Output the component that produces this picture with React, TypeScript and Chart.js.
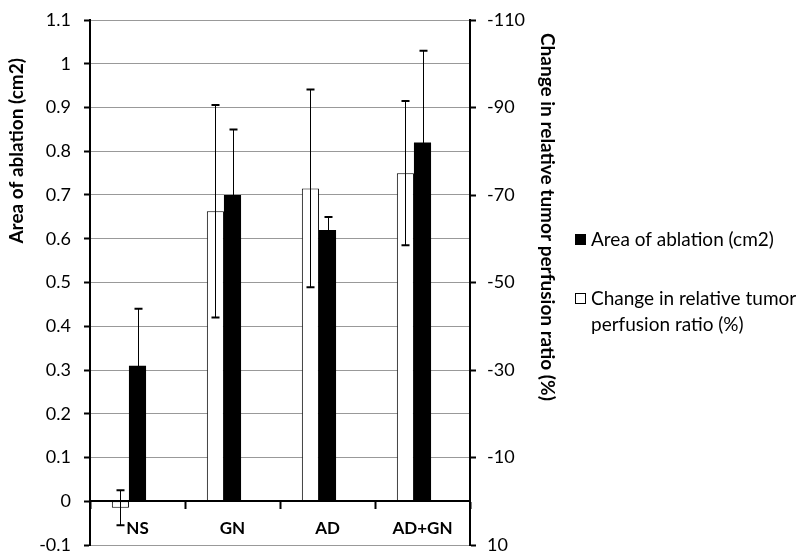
import React, { useEffect, useRef } from 'react';
import { Chart, registerables } from 'chart.js';

Chart.register(...registerables);

const FONT = 'Lato, "Open Sans", sans-serif';

const categories = ['NS', 'GN', 'AD', 'AD+GN'];
const areaValues = [0.31, 0.7, 0.62, 0.82];
const areaErrors = [0.13, 0.15, 0.03, 0.21];
const perfusionValues = [1.5, -66.3, -71.5, -75.0];
const perfusionErrors = [4.0, 24.3, 22.6, 16.5];

const leftAxis = { min: -0.1, max: 1.1, step: 0.1 };
const rightAxis = { min: -110, max: 10, step: 20 };

const areaLabel = 'Area of ablation (cm2)';
const perfusionLabel = 'Change in relative tumor perfusion ratio (%)';
const perfusionLegendLines = ['Change in relative tumor', 'perfusion ratio (%)'];

const errorBarPlugin = {
  id: 'errorBars',
  afterDatasetsDraw(chart: any) {
    const ctx = chart.ctx;
    chart.data.datasets.forEach((ds: any, di: number) => {
      const errs = ds.errors;
      if (!errs) return;
      const meta = chart.getDatasetMeta(di);
      const scale = chart.scales[ds.yAxisID];
      meta.data.forEach((bar: any, i: number) => {
        const v = ds.data[i];
        const e = errs[i];
        if (v == null || e == null) return;
        const x = Math.round(bar.x) + 0.5;
        const yA = scale.getPixelForValue(v + e);
        const yB = scale.getPixelForValue(v - e);
        ctx.save();
        ctx.strokeStyle = '#000';
        ctx.lineWidth = 1;
        ctx.beginPath();
        ctx.moveTo(x, yA);
        ctx.lineTo(x, yB);
        ctx.stroke();
        ctx.lineWidth = 2;
        ctx.beginPath();
        ctx.moveTo(x - 4, yA);
        ctx.lineTo(x + 4, yA);
        ctx.moveTo(x - 4, yB);
        ctx.lineTo(x + 4, yB);
        ctx.stroke();
        ctx.restore();
      });
    });
  },
};

const textPlugin = {
  id: 'titlesAndLegend',
  afterDraw(chart: any) {
    const { ctx, chartArea } = chart;
    ctx.save();
    ctx.fillStyle = '#000';
    ctx.textBaseline = 'middle';
    ctx.font = `bold 19px ${FONT}`;
    // left axis title
    ctx.save();
    ctx.translate(17, chartArea.top + 38);
    ctx.rotate(-Math.PI / 2);
    ctx.textAlign = 'right';
    ctx.fillText(areaLabel, 0, 0);
    ctx.restore();
    // right axis title
    ctx.save();
    ctx.translate(547, chartArea.top + 13);
    ctx.rotate(Math.PI / 2);
    ctx.textAlign = 'left';
    ctx.fillText(perfusionLabel, 0, 0);
    ctx.restore();
    // legend
    ctx.font = `19px ${FONT}`;
    ctx.textAlign = 'left';
    ctx.fillStyle = '#000';
    ctx.fillRect(575, 234, 11, 11);
    ctx.fillText(areaLabel, 591, 240);
    ctx.strokeStyle = '#000';
    ctx.lineWidth = 1;
    ctx.fillStyle = '#fff';
    ctx.fillRect(575.5, 293.5, 10, 10);
    ctx.strokeRect(575.5, 293.5, 10, 10);
    ctx.fillStyle = '#000';
    ctx.fillText(perfusionLegendLines[0], 591, 299);
    ctx.fillText(perfusionLegendLines[1], 591, 325);
    ctx.restore();
  },
};

const fmt = (v: any) => {
  const r = Math.round(Number(v) * 10) / 10;
  return String(r === 0 ? 0 : r);
};

export default function App() {
  const ref = useRef<HTMLCanvasElement | null>(null);
  useEffect(() => {
    if (!ref.current) return;
    const chart = new Chart(ref.current, {
      type: 'bar',
      data: {
        labels: categories,
        datasets: [
          {
            label: perfusionLabel,
            data: perfusionValues,
            errors: perfusionErrors,
            yAxisID: 'y2',
            backgroundColor: '#ffffff',
            borderColor: '#000000',
            borderWidth: 1,
            borderSkipped: false,
          } as any,
          {
            label: areaLabel,
            data: areaValues,
            errors: areaErrors,
            yAxisID: 'y',
            backgroundColor: '#000000',
            borderWidth: 0,
          } as any,
          {
            label: '',
            data: categories.map(() => null),
            yAxisID: 'y',
          } as any,
        ],
      },
      options: {
        responsive: false,
        animation: false,
        categoryPercentage: 0.54,
        barPercentage: 1.0,
        layout: { padding: { top: 20, bottom: 15, left: 0, right: 270 } },
        plugins: {
          legend: { display: false },
          tooltip: { enabled: false },
        },
        scales: {
          x: {
            type: 'category',
            position: { y: 0 } as any,
            offset: true,
            grid: {
              offset: true,
              drawOnChartArea: false,
              drawTicks: true,
              tickLength: 7,
              tickColor: '#000',
              tickWidth: 2,
            },
            border: { display: true, color: '#000', width: 2, z: 1 },
            ticks: {
              color: '#000',
              font: { family: FONT, size: 17, weight: 'bold' },
              padding: 10,
            },
            afterFit: (s: any) => {
              s.height = 0;
            },
          } as any,
          y: {
            type: 'linear',
            position: 'left',
            min: leftAxis.min,
            max: leftAxis.max,
            ticks: {
              stepSize: leftAxis.step,
              callback: fmt,
              color: '#000',
              font: { family: FONT, size: 18 },
              padding: 13,
            },
            grid: {
              color: '#999999',
              lineWidth: 1,
              tickColor: '#000',
              tickLength: 6,
              tickWidth: 2,
            },
            border: { display: true, color: '#000', width: 2, z: 1 },
            afterFit: (s: any) => {
              s.width = 90;
              s.paddingTop = 0;
              s.paddingBottom = 0;
            },
          } as any,
          y2: {
            type: 'linear',
            position: 'right',
            reverse: true,
            min: rightAxis.min,
            max: rightAxis.max,
            ticks: {
              stepSize: rightAxis.step,
              color: '#000',
              font: { family: FONT, size: 18 },
              padding: 11,
            },
            grid: {
              drawOnChartArea: false,
              tickColor: '#000',
              tickLength: 6,
              tickWidth: 2,
            },
            border: { display: true, color: '#000', width: 2, z: 1 },
            afterFit: (s: any) => {
              s.width = 60;
              s.paddingTop = 0;
              s.paddingBottom = 0;
            },
          } as any,
        },
      } as any,
      plugins: [errorBarPlugin, textPlugin],
    });
    return () => chart.destroy();
  }, []);
  return (
    <div style={{ position: 'absolute', left: 0, top: 0, width: 800, height: 560, background: '#fff' }}>
      <canvas ref={ref} width={800} height={560} style={{ display: 'block' }} />
    </div>
  );
}
